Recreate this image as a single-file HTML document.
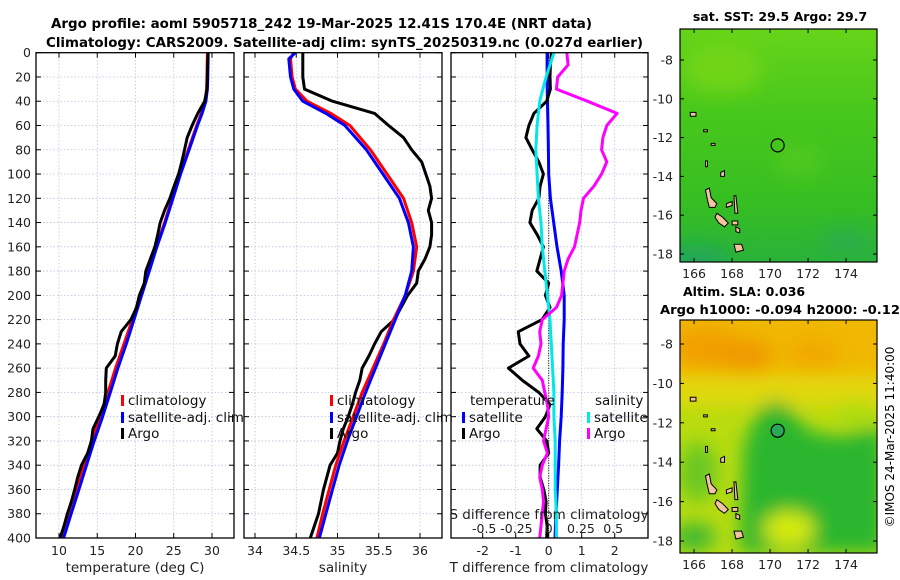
<!DOCTYPE html>
<html><head><meta charset="utf-8"><style>
html,body{margin:0;padding:0;background:#fff;}
svg{display:block;font-family:"DejaVu Sans","Liberation Sans",sans-serif;}
</style></head><body>
<svg id="fig" width="900" height="580" viewBox="0 0 900 580" xmlns="http://www.w3.org/2000/svg">
<defs>
<filter id="blur" x="-50%" y="-50%" width="200%" height="200%"><feGaussianBlur stdDeviation="9"/></filter>
<clipPath id="clipTop"><rect x="680" y="29" width="197" height="233"/></clipPath>
<clipPath id="clipBot"><rect x="680" y="320" width="197" height="233"/></clipPath>
<linearGradient id="sstGrad" x1="0" y1="0" x2="0" y2="1">
<stop offset="0" stop-color="#66d41a"/><stop offset="0.35" stop-color="#48c81c"/><stop offset="0.75" stop-color="#36be22"/><stop offset="1" stop-color="#2ab23a"/>
</linearGradient>
</defs>
<text x="51" y="28" font-size="13" font-weight="bold" textLength="541" lengthAdjust="spacingAndGlyphs">Argo profile: aoml 5905718_242 19-Mar-2025 12.41S 170.4E (NRT data)</text>
<text x="46" y="47" font-size="13" font-weight="bold" textLength="597" lengthAdjust="spacingAndGlyphs">Climatology: CARS2009. Satellite-adj clim: synTS_20250319.nc (0.027d earlier)</text>
<g id="charts"></g>
<g id="maps"></g>
<text transform="translate(894,437) rotate(-90)" font-size="12" text-anchor="middle">©IMOS 24-Mar-2025 11:40:00</text>
</svg>
<script>
// ---- data ----
const climDepths = [0,5,20,30,40,50,60,80,100,120,140,160,180,200,220,240,260,280,300,320,340,360,380,400];
const climTemp = [29.4,29.39,29.35,29.3,29.1,28.6,28.0,26.9,25.8,24.8,23.8,22.7,21.7,20.6,19.6,18.5,17.4,16.4,15.3,14.3,13.2,12.2,11.2,10.2];
const satTemp = [29.5,29.49,29.45,29.4,29.2,28.7,28.1,27.0,25.9,24.9,23.9,22.8,21.8,20.8,19.8,18.8,17.7,16.7,15.7,14.6,13.6,12.6,11.6,10.6];
const climSal = [34.47,34.43,34.45,34.49,34.63,34.92,35.15,35.40,35.6,35.8,35.9,35.96,35.92,35.82,35.68,35.56,35.43,35.3,35.19,35.08,34.98,34.9,34.82,34.75];
const satSal = [34.49,34.41,34.43,34.47,34.58,34.86,35.09,35.35,35.55,35.75,35.86,35.92,35.9,35.82,35.7,35.58,35.46,35.34,35.23,35.12,35.02,34.94,34.86,34.78];
const argoDepths = [0,10,20,30,40,50,60,70,80,90,100,110,120,130,140,150,160,170,180,190,200,210,220,230,240,250,260,270,280,290,300,310,320,330,340,350,360,370,380,390,400];
const argoTemp = [29.49,29.43,29.39,29.35,29.04,28.15,27.4,26.76,26.4,26.05,25.64,25.04,24.5,23.8,23.23,22.9,22.54,21.94,21.34,21.15,20.5,20.14,19.4,18.13,17.63,17.35,16.18,16.1,16.1,15.89,15.2,14.44,14.24,13.75,12.94,12.44,12.05,11.62,11.1,10.65,10.14];
const argoSal = [34.58,34.58,34.58,34.6,34.94,35.45,35.62,35.8,35.9,36.02,36.07,36.12,36.14,36.1,36.14,36.14,36.12,36.06,35.98,35.96,35.85,35.77,35.69,35.53,35.45,35.38,35.3,35.27,35.22,35.18,35.13,35.07,35.03,35.0,34.91,34.87,34.83,34.8,34.77,34.72,34.67];
const argoTDiff = [0.09,0.05,0.04,0.05,-0.06,-0.45,-0.6,-0.69,-0.5,-0.3,-0.16,-0.26,-0.3,-0.5,-0.57,-0.35,-0.16,-0.26,-0.36,0,-0.1,0.04,-0.2,-0.92,-0.87,-0.6,-1.22,-0.8,-0.3,0.04,-0.1,-0.36,-0.06,0,-0.26,-0.26,-0.15,-0.08,-0.1,-0.05,-0.06];
const argoSDiff = [0.14,0.15,0.07,0.06,0.3,0.53,0.45,0.42,0.41,0.45,0.41,0.35,0.27,0.25,0.24,0.22,0.2,0.15,0.12,0.11,0.1,0.06,-0.05,-0.07,-0.06,-0.08,-0.12,-0.05,-0.03,-0.01,0,-0.02,-0.04,-0.01,-0.05,-0.07,-0.05,-0.04,-0.05,-0.06,-0.07];
const diffDepths = [0,20,40,60,80,100,120,140,160,180,200,220,240,260,280,300,320,340,360,380,400];
const satTDiff = [-0.05,-0.05,-0.04,-0.02,-0.01,0.0,0.05,0.15,0.25,0.38,0.47,0.47,0.44,0.43,0.41,0.38,0.33,0.3,0.26,0.22,0.19];
const satSDiff = [0.04,-0.02,-0.07,-0.09,-0.1,-0.09,-0.08,-0.06,-0.05,-0.03,-0.01,0.01,0.02,0.03,0.04,0.04,0.05,0.05,0.05,0.06,0.06];
const depthTicks = [0,20,40,60,80,100,120,140,160,180,200,220,240,260,280,300,320,340,360,380,400];
const tempTicks = [10,15,20,25,30];
const salTicks = [34,34.5,35,35.5,36];
const salTickLabels = ["34","34.5","35","35.5","36"];
const tdTicks = [-2,-1,0,1,2];
const sdTicks = [-0.5,-0.25,0,0.25,0.5];
const sdTickLabels = ["-0.5","-0.25","0","0.25","0.5"];
const latTicks = [-8,-10,-12,-14,-16,-18];
const lonTicks = [166,168,170,172,174];
const argoLon = 170.4, argoLat = -12.4;

// ---- scales ----
const Y0 = 52.7, Y1 = 538;
const yD = d => Y0 + d * (Y1 - Y0) / 400;
const xT = v => 59 + (v - 10) * 7.65;
const xS = v => 255 + (v - 34) * 82.5;
const xdT = v => 548.7 + v * 33;
const xdS = v => 548.7 + v * 129;
const mx = lon => 680 + (lon - 165.26) * 19;
const myT = lat => 60 + (-8 - lat) * 19.4;
const myB = lat => 344 + (-8 - lat) * 19.7;

const NS = "http://www.w3.org/2000/svg";
const charts = document.getElementById('charts');
const maps = document.getElementById('maps');
function mk(tag, attrs, parent) {
  const e = document.createElementNS(NS, tag);
  for (const k in attrs) e.setAttribute(k, attrs[k]);
  parent.appendChild(e);
  return e;
}
function txt(s, attrs, parent) { const e = mk('text', attrs, parent); e.textContent = s; return e; }

function line(depths, vals, xf, color, name, parent) {
  const pts = depths.map((d, i) => xf(vals[i]).toFixed(1) + ',' + yD(d).toFixed(1)).join(' ');
  const p = mk('polyline', {points: pts, fill: 'none', stroke: color, 'stroke-width': 3, 'stroke-linejoin': 'round'}, parent);
  
  
}

const panels = [{x0: 36, x1: 234, name: 'temperature-panel'}, {x0: 244, x1: 442, name: 'salinity-panel'}, {x0: 451, x1: 648, name: 'difference-panel'}];
panels.forEach((p, pi) => {
  const g = mk('g', {}, charts);
  
  
  depthTicks.forEach(d => {
    const y = yD(d);
    if (d > 0 && d < 400) {
      const gl = mk('line', {x1: p.x0, x2: p.x1, y1: y, y2: y, stroke: '#b9c0e6', 'stroke-width': 0.8, 'stroke-dasharray': '1.5,2'}, g);
      
      
    }
    mk('line', {x1: p.x0, x2: p.x0 + 5, y1: y, y2: y, stroke: '#000', 'stroke-width': 1}, g);
    mk('line', {x1: p.x1 - 5, x2: p.x1, y1: y, y2: y, stroke: '#000', 'stroke-width': 1}, g);
  });
  const vt = pi === 0 ? tempTicks.map(xT) : pi === 1 ? salTicks.map(xS) : tdTicks.map(xdT);
  vt.forEach(x => {
    const gl = mk('line', {x1: x, x2: x, y1: Y0, y2: Y1, stroke: '#b9c0e6', 'stroke-width': 0.8, 'stroke-dasharray': '1.5,2'}, g);
    
    
    mk('line', {x1: x, x2: x, y1: Y1, y2: Y1 - 5, stroke: '#000', 'stroke-width': 1}, g);
    mk('line', {x1: x, x2: x, y1: Y0, y2: Y0 + 5, stroke: '#000', 'stroke-width': 1}, g);
  });
});

depthTicks.forEach(d => {
  const t = txt(String(d), {x: 31, y: yD(d) + 4.5, 'font-size': 12.5, 'text-anchor': 'end', fill: '#222'}, charts);
  
  
});

const g1 = charts.children[0];
line(climDepths, climTemp, xT, '#ff0000', 'temp-climatology-line', g1);
line(climDepths, satTemp, xT, '#0000ff', 'temp-satellite-line', g1);
line(argoDepths, argoTemp, xT, '#000000', 'temp-argo-line', g1);
tempTicks.forEach(v => {
  const t = txt(String(v), {x: xT(v), y: 555, 'font-size': 12.5, 'text-anchor': 'middle', fill: '#222'}, charts);
  
  
});
const g2 = charts.children[1];
line(argoDepths, argoSal, xS, '#000000', 'sal-argo-line', g2);
line(climDepths, climSal, xS, '#ff0000', 'sal-climatology-line', g2);
line(climDepths, satSal, xS, '#0000ff', 'sal-satellite-line', g2);
salTicks.forEach((v, i) => {
  const t = txt(salTickLabels[i], {x: xS(v), y: 555, 'font-size': 12.5, 'text-anchor': 'middle', fill: '#222'}, charts);
  
  
});
const g3 = charts.children[2];
const zl = mk('line', {x1: xdT(0), x2: xdT(0), y1: Y0, y2: Y1, stroke: '#000', 'stroke-width': 1, 'stroke-dasharray': '1,1.5'}, g3);


line(diffDepths, satTDiff, xdT, '#0000ff', 'tdiff-satellite-line', g3);
line(argoDepths, argoTDiff, xdT, '#000000', 'tdiff-argo-line', g3);
line(diffDepths, satSDiff, xdS, '#00e8e8', 'sdiff-satellite-line', g3);
line(argoDepths, argoSDiff, xdS, '#ff00ff', 'sdiff-argo-line', g3);
tdTicks.forEach(v => {
  const t = txt(String(v), {x: xdT(v), y: 555, 'font-size': 12.5, 'text-anchor': 'middle', fill: '#222'}, charts);
  
  
});
sdTicks.forEach((v, i) => {
  const t = txt(sdTickLabels[i], {x: xdS(v), y: 533, 'font-size': 12.5, 'text-anchor': 'middle', fill: '#222'}, charts);
  
  
});

panels.forEach(p => {
  const r = mk('rect', {x: p.x0, y: Y0, width: p.x1 - p.x0, height: Y1 - Y0, fill: 'none', stroke: '#000', 'stroke-width': 1.3}, charts);
  
  
});

[[135, 'temperature (deg C)', 'temp-axis-title'], [343, 'salinity', 'sal-axis-title'], [549, 'T difference from climatology', 'tdiff-axis-title']].forEach(a => {
  const t = txt(a[1], {x: a[0], y: 572, 'font-size': 13.5, 'text-anchor': 'middle', fill: '#222'}, charts);
  
  
});
const sdt = txt('S difference from climatology', {x: 549, y: 519, 'font-size': 13.5, 'text-anchor': 'middle', fill: '#222'}, charts);



function legendEntry(x, y, color, label, name) {
  const g = mk('g', {}, charts);
  
  
  mk('rect', {x: x, y: y - 10, width: 3, height: 11, fill: color}, g);
  txt(label, {x: x + 7, y: y, 'font-size': 13.5, fill: '#111'}, g);
}
legendEntry(121, 405, '#ff0000', 'climatology', 'legend-entry-climatology');
legendEntry(121, 422, '#0000ff', 'satellite-adj. clim', 'legend-entry-satellite');
legendEntry(121, 438, '#000000', 'Argo', 'legend-entry-argo');
legendEntry(330, 405, '#ff0000', 'climatology', 'legend-entry-sal-climatology');
legendEntry(330, 422, '#0000ff', 'satellite-adj. clim', 'legend-entry-sal-satellite');
legendEntry(330, 438, '#000000', 'Argo', 'legend-entry-sal-argo');
const lt = txt('temperature', {x: 470, y: 405, 'font-size': 13.5, fill: '#111'}, charts);


const ls = txt('salinity', {x: 595, y: 405, 'font-size': 13.5, fill: '#111'}, charts);


legendEntry(462, 422, '#0000ff', 'satellite', 'legend-entry-t-satellite');
legendEntry(462, 438, '#000000', 'Argo', 'legend-entry-t-argo');
legendEntry(587, 422, '#00e8e8', 'satellite', 'legend-entry-s-satellite');
legendEntry(587, 438, '#ff00ff', 'Argo', 'legend-entry-s-argo');

// ---- maps ----
const islands = [
  [[166.6,-14.7],[166.8,-14.6],[166.9,-15.1],[167.2,-15.4],[167.1,-15.6],[166.8,-15.6],[166.7,-15.2]],
  [[167.2,-15.9],[167.5,-16.1],[167.8,-16.4],[167.6,-16.6],[167.3,-16.4],[167.1,-16.1]],
  [[168.1,-17.5],[168.5,-17.5],[168.6,-17.8],[168.2,-17.9]],
  [[167.7,-15.4],[168.0,-15.3],[168.0,-15.5],[167.7,-15.6]],
  [[168.1,-15.0],[168.2,-15.0],[168.3,-15.9],[168.15,-15.9]],
  [[168.0,-16.3],[168.3,-16.3],[168.3,-16.5],[168.0,-16.5]],
  [[168.2,-16.6],[168.4,-16.7],[168.4,-16.9],[168.2,-16.85]],
  [[167.4,-13.8],[167.6,-13.7],[167.6,-14.0],[167.4,-14.0]],
  [[166.6,-13.2],[166.7,-13.2],[166.7,-13.5],[166.6,-13.5]],
  [[165.8,-10.7],[166.1,-10.7],[166.1,-10.9],[165.8,-10.9]],
  [[166.5,-11.6],[166.7,-11.6],[166.7,-11.7],[166.5,-11.7]],
  [[166.9,-12.3],[167.1,-12.3],[167.1,-12.4],[166.9,-12.4]]
];
function drawMap(my, y0, y1, clip, kind, name) {
  const g = mk('g', {}, maps);
  
  
  const c = mk('g', {'clip-path': 'url(#' + clip + ')'}, g);
  if (kind === 'sst') {
    mk('rect', {x: 680, y: y0, width: 197, height: y1 - y0, fill: 'url(#sstGrad)'}, c);
    const b = mk('g', {filter: 'url(#blur)'}, c);
    mk('ellipse', {cx: mx(167.5), cy: my(-8.5), rx: 40, ry: 25, fill: '#80d818', opacity: 0.6}, b);
    mk('ellipse', {cx: mx(171.5), cy: my(-13.2), rx: 25, ry: 18, fill: '#58cc20', opacity: 0.6}, b);
    mk('ellipse', {cx: mx(166), cy: my(-18.2), rx: 35, ry: 12, fill: '#1a9a80', opacity: 0.5}, b);
    mk('ellipse', {cx: mx(174), cy: my(-17.3), rx: 25, ry: 12, fill: '#20a070', opacity: 0.4}, b);
  } else {
    mk('rect', {x: 680, y: y0, width: 197, height: y1 - y0, fill: '#b8dc10'}, c);
    const b = mk('g', {filter: 'url(#blur)'}, c);
    mk('rect', {x: 660, y: y0 - 20, width: 240, height: my(-9.6) - y0 + 20, fill: '#f0b800'}, b);
    mk('rect', {x: 660, y: my(-9.6), width: 240, height: 30, fill: '#e2d808'}, b);
    mk('ellipse', {cx: mx(166.6), cy: my(-8.2), rx: 35, ry: 22, fill: '#f2a000'}, b);
    mk('ellipse', {cx: mx(168.7), cy: my(-8.6), rx: 28, ry: 18, fill: '#f09a00'}, b);
    mk('ellipse', {cx: mx(172.3), cy: my(-8.5), rx: 25, ry: 16, fill: '#f2a800'}, b);
    const gp = [[168.4,-18.6],[168.6,-13.2],[169.4,-11.3],[170.4,-10.8],[171.2,-11.4],[172,-12.4],[173.5,-12.7],[176,-12.2],[176,-18.6]];
    mk('polygon', {points: gp.map(p => mx(p[0]) + ',' + my(p[1])).join(' '), fill: '#2cb62e'}, b);
    mk('ellipse', {cx: mx(166.2), cy: my(-14.5), rx: 20, ry: 30, fill: '#6cc820'}, b);
    mk('ellipse', {cx: mx(171.0), cy: my(-17.4), rx: 26, ry: 18, fill: '#d6ea10'}, b);
    mk('ellipse', {cx: mx(166.0), cy: my(-17.8), rx: 22, ry: 14, fill: '#40b830'}, b);
    mk('ellipse', {cx: mx(174.5), cy: my(-11.5), rx: 20, ry: 12, fill: '#a8dc10'}, b);
  }
  islands.forEach(isl => {
    const p = mk('polygon', {points: isl.map(q => mx(q[0]).toFixed(1) + ',' + my(q[1]).toFixed(1)).join(' '), fill: '#f2c49e', stroke: '#000', 'stroke-width': 1}, c);
    
    
  });
  const circ = mk('circle', {cx: mx(argoLon), cy: my(argoLat), r: 6.5, fill: kind === 'sst' ? 'none' : '#2aa858', stroke: '#000', 'stroke-width': 1.2}, g);
  
  
  mk('rect', {x: 680, y: y0, width: 197, height: y1 - y0, fill: 'none', stroke: '#000', 'stroke-width': 1.2}, g);
  latTicks.forEach(l => {
    const y = my(l);
    mk('line', {x1: 680, x2: 684, y1: y, y2: y, stroke: '#000'}, g);
    mk('line', {x1: 873, x2: 877, y1: y, y2: y, stroke: '#000'}, g);
    const t = txt(String(l), {x: 673, y: y + 4.5, 'font-size': 12.5, 'text-anchor': 'end', fill: '#222'}, g);
    
    
  });
  lonTicks.forEach(l => {
    const x = mx(l);
    mk('line', {x1: x, x2: x, y1: y1, y2: y1 - 4, stroke: '#000'}, g);
    mk('line', {x1: x, x2: x, y1: y0, y2: y0 + 4, stroke: '#000'}, g);
    const t = txt(String(l), {x: x, y: y1 + 16, 'font-size': 12.5, 'text-anchor': 'middle', fill: '#222'}, g);
    
    
  });
}
drawMap(myT, 29, 262, 'clipTop', 'sst', 'sst-map');
drawMap(myB, 320, 553, 'clipBot', 'sla', 'sla-map');
const mt1 = txt('sat. SST: 29.5 Argo: 29.7', {x: 780, y: 21, 'font-size': 12.5, 'font-weight': 'bold', 'text-anchor': 'middle'}, maps);


const mt2 = txt('Altim. SLA: 0.036', {x: 683, y: 296, 'font-size': 12.5, 'font-weight': 'bold'}, maps);


const mt3 = txt('Argo h1000: -0.094 h2000: -0.12', {x: 660, y: 314, 'font-size': 12.5, 'font-weight': 'bold', textLength: 240, lengthAdjust: 'spacingAndGlyphs'}, maps);


</script>
</body></html>
